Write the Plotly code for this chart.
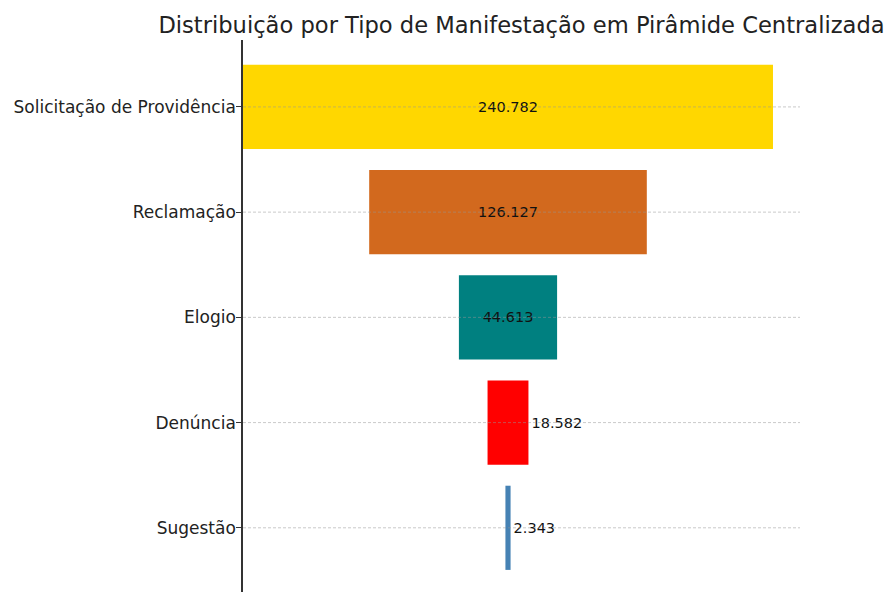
import plotly.graph_objects as go

categories = ["Solicitação de Providência", "Reclamação", "Elogio", "Denúncia", "Sugestão"]
values = [240782, 126127, 44613, 18582, 2343]
labels = ["240.782", "126.127", "44.613", "18.582", "2.343"]
colors = ["#FFD700", "#D2691E", "#008080", "#FF0000", "#4682B4"]
text_pos = ["inside", "inside", "inside", "outside", "outside"]

fig = go.Figure()
fig.add_trace(go.Bar(
    y=categories,
    x=values,
    base=[-v / 2 for v in values],
    orientation="h",
    width=0.8,
    marker=dict(color=colors, line=dict(width=0)),
    text=labels,
    textposition=text_pos,
    insidetextanchor="middle",
    constraintext="none",
    textfont=dict(family="DejaVu Sans", size=14.5, color="#111111"),
    cliponaxis=False,
    hoverinfo="skip",
))

for c in categories:
    fig.add_shape(type="line", xref="paper", x0=0, x1=1, yref="y", y0=c, y1=c,
                  line=dict(color="rgba(150,150,150,0.5)", width=1, dash="3px,2px"),
                  layer="above")

fig.update_layout(
    width=890, height=592,
    margin=dict(l=243, r=90, t=40, b=0, autoexpand=False),
    paper_bgcolor="white", plot_bgcolor="white",
    showlegend=False,
    title=dict(text="Distribuição por Tipo de Manifestação em Pirâmide Centralizada",
               x=(243 + 800) / 2 / 890, xanchor="center", y=1 - 25 / 592, yanchor="middle",
               font=dict(family="DejaVu Sans", size=22.6, color="#222222")),
    font=dict(family="DejaVu Sans", color="#222222"),
)
fig.update_xaxes(range=[-120391, 132660], visible=False, showgrid=False, zeroline=False)
fig.update_yaxes(
    categoryorder="array", categoryarray=categories,
    range=[4.61, -0.636],
    showline=True, linecolor="#333333", linewidth=1.5,
    ticks="outside", ticklen=5, tickcolor="#333333", tickwidth=1.2,
    showgrid=False, zeroline=False, automargin=False,
    tickfont=dict(family="DejaVu Sans", size=17, color="#222222"),
    ticklabelstandoff=-3,
)

fig.write_html("out.html", config={"displayModeBar": False},
               post_script="document.body.style.margin='0';document.body.style.padding='0';")
